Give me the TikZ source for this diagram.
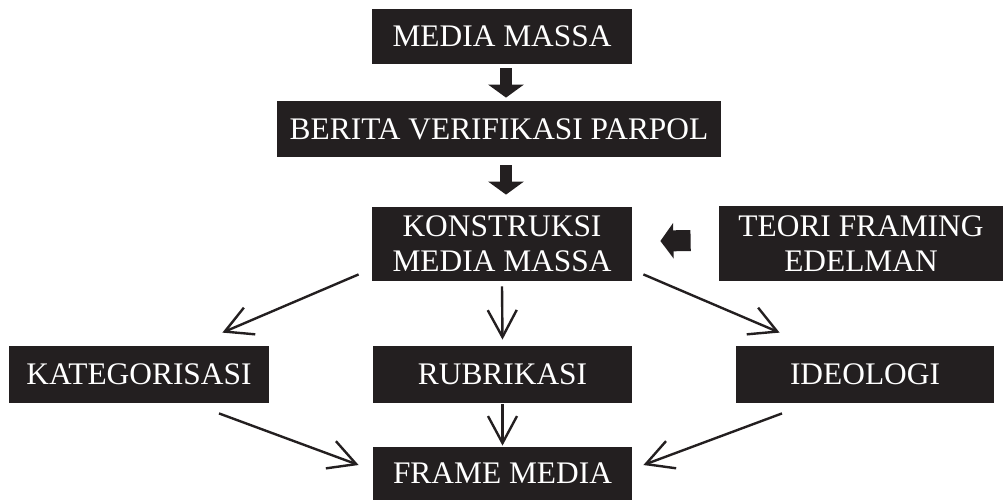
\documentclass[tikz,border=0pt]{standalone}
\usepackage{fontspec}
\setmainfont{Liberation Serif}
\usetikzlibrary{arrows.meta}
\definecolor{inkblack}{HTML}{231F20}

\begin{document}
\begin{tikzpicture}[x=0.5pt,y=-0.5pt,
darkbox/.style={fill=inkblack, text=white, inner sep=0pt, align=center,
  font=\fontsize{15.7}{17.5}\selectfont},
blockarrow/.style={draw=inkblack, line width=6pt, -{Triangle[length=6.5pt,width=17.5pt]}},
linkarrow/.style={draw=inkblack, line width=1.2pt, -{Straight Barb[length=13.5pt,width=14.5pt]}}]
\useasboundingbox (0,0) rectangle (1006,500);
\node[darkbox, minimum width=130pt, minimum height=27.5pt] (media) at (502,36.5) {MEDIA MASSA};
\node[darkbox, minimum width=222pt, minimum height=28pt] (berita) at (499,129) {BERITA VERIFIKASI PARPOL};
\node[darkbox, minimum width=130pt, minimum height=37pt] (kons) at (502,244) {KONSTRUKSI\\MEDIA MASSA};
\node[darkbox, minimum width=142pt, minimum height=37.5pt] (teori) at (861,243.5) {TEORI FRAMING\\EDELMAN};
\node[darkbox, minimum width=130pt, minimum height=28.5pt] (kat) at (139,374.5) {KATEGORISASI};
\node[darkbox, minimum width=129.5pt, minimum height=28.5pt] (rub) at (502.5,374.5) {RUBRIKASI};
\node[darkbox, minimum width=129pt, minimum height=28.5pt] (ideo) at (865,374.5) {IDEOLOGI};
\node[darkbox, minimum width=129.5pt, minimum height=26.5pt] (frame) at (502.5,473.5) {FRAME MEDIA};
\draw[blockarrow] ([xshift=2pt,yshift=-2pt]media.south) -- ([xshift=3.5pt,yshift=1.5pt]berita.north);
\draw[blockarrow] ([xshift=3.5pt,yshift=-4pt]berita.south) -- ([xshift=2pt,yshift=6pt]kons.north);
\draw[blockarrow, line width=10.5pt] ([xshift=-14pt,yshift=1.5pt]teori.west) -- ([xshift=14pt,yshift=1.5pt]kons.east);
\draw[linkarrow] ([xshift=-6.5pt,yshift=3.5pt]kons.south west) -- ([xshift=-23.5pt,yshift=6.5pt]kat.north east);
\draw[linkarrow] ([yshift=-2.5pt]kons.south) -- ([yshift=3pt]rub.north);
\draw[linkarrow] ([xshift=5.5pt,yshift=3.5pt]kons.south east) -- ([xshift=22pt,yshift=6.5pt]ideo.north west);
\draw[linkarrow] ([xshift=40pt,yshift=-5pt]kat.south) -- ([xshift=-7pt,yshift=4.25pt]frame.west);
\draw[linkarrow] ([yshift=-0.5pt]rub.south) -- ([yshift=0.5pt]frame.north);
\draw[linkarrow] ([xshift=-41.5pt,yshift=-5pt]ideo.south) -- ([xshift=5.5pt,yshift=4.25pt]frame.east);
\end{tikzpicture}
\end{document}
